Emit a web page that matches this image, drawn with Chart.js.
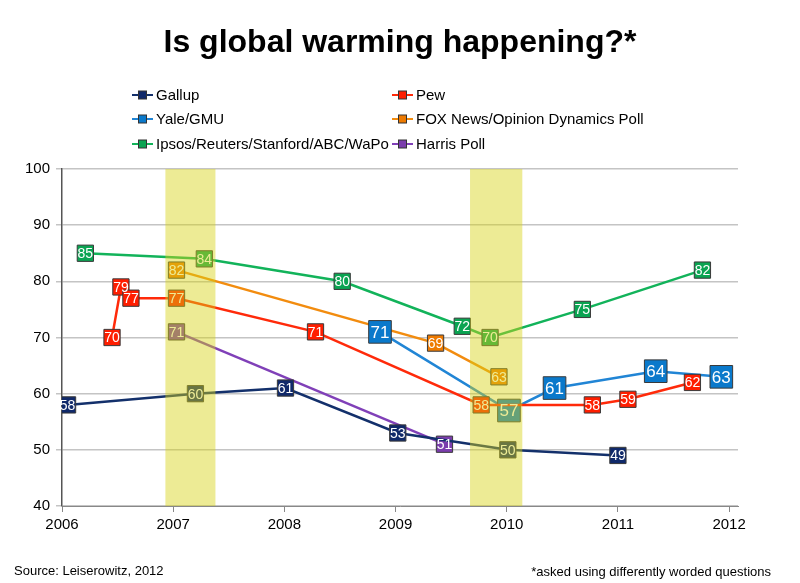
<!DOCTYPE html>
<html>
<head>
<meta charset="utf-8">
<script src="https://cdn.jsdelivr.net/npm/chart.js@4"></script>
<style>
  html, body { margin: 0; padding: 0; background: #fff; }
</style>
</head>
<body>
<canvas id="warming_chart" width="800" height="583"></canvas>
<script>
var FONT = "'Liberation Sans', Arial, sans-serif";

// x axis years
var years = [2006, 2007, 2008, 2009, 2010, 2011, 2012];

// poll series (x = fractional year, y = % saying yes)
var gallupX = [2006.05, 2007.2, 2008.01, 2009.02, 2010.01, 2011.0],
	gallupY = [58, 60, 61, 53, 50, 49];
var pewX = [2006.45, 2006.53, 2006.62, 2007.03, 2008.28, 2009.77, 2010.77, 2011.09, 2011.67],
	pewY = [70, 79, 77, 77, 71, 58, 58, 59, 62];
var yaleX = [2008.86, 2010.02, 2010.43, 2011.34, 2011.93],
	yaleY = [71, 57, 61, 64, 63];
var foxX = [2007.03, 2009.36, 2009.93],
	foxY = [82, 69, 63];
var ipsosX = [2006.21, 2007.28, 2008.52, 2009.6, 2009.85, 2010.68, 2011.76],
	ipsosY = [85, 84, 80, 72, 70, 75, 82];
var harrisX = [2007.03, 2009.44],
	harrisY = [71, 51];

// highlighted periods
var bands = [[2006.93, 2007.38], [2009.67, 2010.14]];

function pts(xs, ys) {
	return xs.map(function(x, i) { return { x: x, y: ys[i] }; });
}

function series(label, xs, ys, line, fill, big) {
	return {
		label: label,
		data: pts(xs, ys),
		borderColor: line,
		backgroundColor: fill,
		borderWidth: 2.5,
		tension: 0,
		pointStyle: 'rect',
		pointRadius: big ? 16 : 11.5,
		pointHoverRadius: big ? 16 : 11.5,
		pointBackgroundColor: fill,
		pointBorderColor: '#3a3a3a',
		pointBorderWidth: 1,
		bigLabel: !!big
	};
}

var datasets = [
	series('Gallup', gallupX, gallupY, '#13306B', '#10296A'),
	series('Pew', pewX, pewY, '#FF2A0A', '#FF1E00'),
	series('Yale/GMU', yaleX, yaleY, '#2185D5', '#0A79CB', true),
	series('FOX News/Opinion Dynamics Poll', foxX, foxY, '#F28C0F', '#EE7A00'),
	series('Ipsos/Reuters/Stanford/ABC/WaPo', ipsosX, ipsosY, '#12B35A', '#0AA452'),
	series('Harris Poll', harrisX, harrisY, '#8040B8', '#7B3DAD')
];

var decorPlugin = {
	id: 'decor',
	afterDatasetsDraw: function(chart) {
		const ctx = chart.ctx;
		const area = chart.chartArea;
		const xs = chart.scales.x;

		// value text inside each marker
		ctx.save();
		ctx.textAlign = 'center';
		ctx.textBaseline = 'middle';
		ctx.fillStyle = '#fff';
		for (let d = chart.data.datasets.length - 1; d >= 0; --d) {
			const ds = chart.data.datasets[d];
			const meta = chart.getDatasetMeta(d);
			ctx.font = (ds.bigLabel ? '17px ' : '14px ') + FONT;
			meta.data.forEach(function(pt, i) {
				ctx.fillText(String(ds.data[i].y), pt.x, pt.y + 1);
			});
		}

		// translucent yellow highlight bands on top of everything
		ctx.fillStyle = 'rgba(215, 210, 20, 0.45)';
		bands.forEach(function(b) {
			const x1 = xs.getPixelForValue(b[0]);
			const x2 = xs.getPixelForValue(b[1]);
			ctx.fillRect(x1, area.top, x2 - x1, area.bottom - area.top);
		});
		ctx.restore();
	},
	afterDraw: function(chart) {
		const ctx = chart.ctx;
		ctx.save();

		// title
		ctx.fillStyle = '#000';
		ctx.textAlign = 'center';
		ctx.textBaseline = 'middle';
		ctx.font = 'bold 32px ' + FONT;
		ctx.fillText('Is global warming happening?*', 400, 43);

		// two column legend
		ctx.font = '15px ' + FONT;
		ctx.textAlign = 'left';
		const cols = [132, 392], rows = [95, 119, 144];
		chart.data.datasets.forEach(function(ds, i) {
			const lx = cols[i % 2], ly = rows[Math.floor(i / 2)];
			ctx.strokeStyle = ds.borderColor;
			ctx.lineWidth = 2;
			ctx.beginPath();
			ctx.moveTo(lx, ly);
			ctx.lineTo(lx + 21, ly);
			ctx.stroke();
			ctx.fillStyle = ds.backgroundColor;
			ctx.fillRect(lx + 6.5, ly - 4, 8, 8);
			ctx.strokeStyle = '#333';
			ctx.lineWidth = 1;
			ctx.strokeRect(lx + 6.5, ly - 4, 8, 8);
			ctx.fillStyle = '#000';
			ctx.fillText(ds.label, lx + 24, ly + 1);
		});

		// footer notes
		ctx.font = '13px ' + FONT;
		ctx.fillText('Source: Leiserowitz, 2012', 14, 571);
		ctx.textAlign = 'right';
		ctx.fillText('*asked using differently worded questions', 771, 572);
		ctx.restore();
	}
};

var config = {
	type: 'line',
	data: { datasets: datasets },
	options: {
		responsive: false,
		animation: false,
		devicePixelRatio: 1,
		layout: { padding: { top: 169, right: 62, bottom: 0, left: 0 } },
		plugins: {
			legend: { display: false },
			title: { display: false },
			tooltip: { enabled: false }
		},
		scales: {
			x: {
				type: 'linear',
				min: 2006,
				max: 2012.08,
				afterBuildTicks: function(scale) {
					scale.ticks = years.map(function(v) { return { value: v }; });
				},
				afterFit: function(scale) { scale.height = 77; },
				ticks: {
					autoSkip: false,
					maxRotation: 0,
					padding: 4,
					color: '#000',
					font: { family: FONT, size: 15 },
					callback: function(v) { return String(v); }
				},
				grid: { drawOnChartArea: false, drawTicks: true, tickLength: 6, color: '#888' },
				border: { color: '#888', width: 1 }
			},
			y: {
				min: 40,
				max: 100,
				afterFit: function(scale) { scale.width = 62; },
				ticks: {
					stepSize: 10,
					padding: 6,
					color: '#000',
					font: { family: FONT, size: 15 }
				},
				grid: { color: '#C4C4C4', lineWidth: 1.5, tickLength: 6 },
				border: { color: '#555', width: 1.5 }
			}
		}
	},
	plugins: [decorPlugin]
};

new Chart(document.getElementById('warming_chart').getContext('2d'), config);
</script>
</body>
</html>
